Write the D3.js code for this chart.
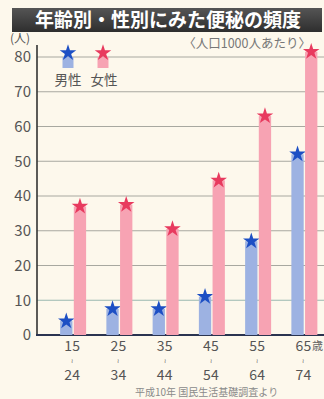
<!DOCTYPE html>
<html><head><meta charset="utf-8">
<script src="https://cdn.jsdelivr.net/npm/d3@7"></script>
<style>
html,body{margin:0;padding:0;background:#fdf8ec;overflow:hidden}
svg{display:block}
text{font-family:"Noto Sans CJK JP","Noto Sans",sans-serif}
</style></head><body>
<script>
const categories = [["15","24"],["25","34"],["35","44"],["45","54"],["55","64"],["65","74"]];
const male =   [4, 7.5, 7.5, 11, 27, 52];
const female = [37, 37.5, 30.5, 44.5, 63, 81.5];
const yTicks = [0,10,20,30,40,50,60,70,80];
const series = ["男性","女性"];

const W=324,H=399;
const svg=d3.select("body").append("svg").attr("width",W).attr("height",H);
svg.append("rect").attr("width",W).attr("height",H).attr("fill","#fdf8ec");

const y=d3.scaleLinear().domain([0,80]).range([335,57]);
const x=d3.scaleBand().domain(categories.map(d=>d[0])).range([50,327.5]);
const xs=d3.scaleBand().domain(series).range([x.bandwidth()/2-13,x.bandwidth()/2+13]).paddingInner(0.1);
const colors={"男性":"#9db2e2","女性":"#f7a3b3"};
const starColors={"男性":"#1d4fc4","女性":"#e83a5e"};

// title
const tg=svg.append("defs").append("linearGradient").attr("id","tg").attr("x1",0).attr("x2",0).attr("y1",0).attr("y2",1);
tg.append("stop").attr("offset","0").attr("stop-color","#555");
tg.append("stop").attr("offset","1").attr("stop-color","#2e2e2e");
svg.append("rect").attr("x",12).attr("y",8).attr("width",310).attr("height",24).attr("fill","url(#tg)");
svg.append("text").attr("x",168).attr("y",27).attr("text-anchor","middle").attr("fill","#fff")
  .attr("font-size",19).attr("font-weight","bold").text("年齢別・性別にみた便秘の頻度");
svg.append("text").attr("x",311).attr("y",48).attr("text-anchor","end").attr("fill","#777")
  .attr("font-size",12.5).text("〈人口1000人あたり〉");

// grid
svg.append("g").selectAll("line").data(yTicks.filter(d=>d>0)).join("line")
  .attr("x1",37).attr("x2",W).attr("y1",d=>y(d)).attr("y2",d=>y(d))
  .attr("stroke",d=>d===10?"#9ab8b0":"#a8a8a0").attr("stroke-width",1);

// y axis
const ya=svg.append("g").attr("transform","translate(37,0)")
  .call(d3.axisLeft(y).tickValues(yTicks).tickSize(0).tickPadding(6));
ya.select(".domain").remove();
ya.selectAll("text").attr("font-size",15).attr("fill","#555").attr("font-family","Liberation Sans, Arial, sans-serif");
svg.append("line").attr("x1",37).attr("x2",37).attr("y1",45).attr("y2",336).attr("stroke","#333").attr("stroke-width",1.6);
svg.append("line").attr("x1",36).attr("x2",W).attr("y1",335).attr("y2",335).attr("stroke","#2a3450").attr("stroke-width",2);
svg.append("text").attr("x",20).attr("y",43).attr("text-anchor","middle").attr("fill","#555").attr("font-size",12).text("(人)");

// star path
const star=d3.symbol().type(d3.symbolStar).size(85)();

// bars
const g=svg.append("g").selectAll("g").data(categories).join("g")
  .attr("transform",d=>`translate(${x(d[0])},0)`);
g.each(function(d,i){
  const gg=d3.select(this);
  const vals={"男性":male[i],"女性":female[i]};
  series.forEach(s=>{
    gg.append("rect").attr("x",xs(s)).attr("width",xs.bandwidth())
      .attr("y",y(vals[s])).attr("height",y(0)-y(vals[s])).attr("fill",colors[s]);
    gg.append("path").attr("d",star).attr("fill",starColors[s])
      .attr("transform",`translate(${xs(s)+xs.bandwidth()/2},${y(vals[s])})`);
  });
});

// x labels: from / range mark / to
const xl=svg.append("g").selectAll("g").data(categories).join("g")
  .attr("transform",d=>`translate(${x(d[0])+x.bandwidth()/2-1},0)`)
  .attr("fill","#555").attr("text-anchor","middle").attr("font-family","Liberation Sans, Arial, sans-serif");
xl.append("text").attr("y",351).attr("font-size",14).text(d=>d[0]);
xl.append("text").attr("y",363).attr("font-size",6).attr("font-family","DejaVu Sans").text("≀");
xl.append("text").attr("y",380).attr("font-size",14).text(d=>d[1]);
svg.append("text").attr("x",312).attr("y",350).attr("fill","#666").attr("font-size",11).text("歳");

// legend
const lg=svg.append("g");
[["男性",68],["女性",103]].forEach(([s,cx])=>{
  lg.append("rect").attr("x",cx-5.5).attr("y",57).attr("width",11).attr("height",11).attr("fill",colors[s]);
  lg.append("path").attr("d",star).attr("fill",starColors[s]).attr("transform",`translate(${cx},53)`);
  lg.append("text").attr("x",cx+(s==="女性"?1:0)).attr("y",85).attr("text-anchor","middle").attr("fill","#555").attr("font-size",13.5).text(s);
});

// source
svg.append("text").attr("x",135).attr("y",396).attr("fill","#8a8a8a").attr("font-size",10).text("平成10年 国民生活基礎調査より");
</script>
</body></html>
